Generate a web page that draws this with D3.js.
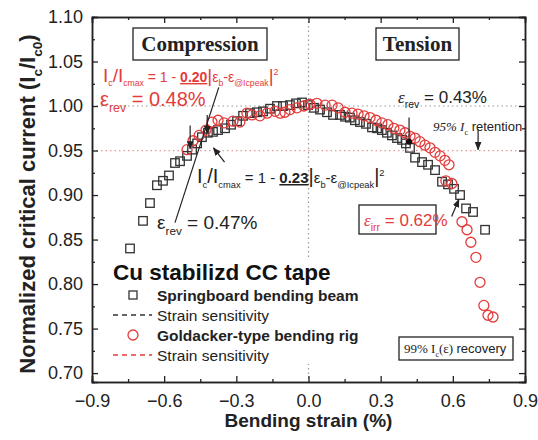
<!DOCTYPE html>
<html lang="en">
<head>
<meta charset="utf-8">
<title>Ic vs bending strain</title>
<script src="https://cdn.jsdelivr.net/npm/d3@7"></script>
<style>body{margin:0;background:#fff}</style>
</head>
<body>
<script>
// Springboard bending beam (black squares)
const strainBeam = [-0.742,-0.688,-0.659,-0.630,-0.605,-0.580,-0.555,-0.534,-0.505,-0.484,-0.463,-0.443,-0.418,-0.397,-0.376,-0.347,-0.322,-0.297,-0.272,-0.243,-0.214,-0.189,-0.160,-0.131,-0.106,-0.077,-0.052,-0.027,-0.002,0.023,0.048,0.077,0.102,0.131,0.152,0.172,0.193,0.214,0.239,0.264,0.285,0.305,0.326,0.347,0.368,0.389,0.405,0.422,0.443,0.472,0.497,0.526,0.555,0.580,0.605,0.630,0.655,0.684,0.734];
const icBeam = [0.840,0.871,0.891,0.911,0.916,0.922,0.936,0.938,0.944,0.951,0.958,0.965,0.970,0.971,0.973,0.975,0.979,0.983,0.989,0.992,0.993,0.994,0.997,1.000,1.000,1.001,1.003,1.004,1.001,0.998,0.996,0.993,0.990,0.990,0.988,0.987,0.984,0.982,0.980,0.976,0.975,0.973,0.970,0.967,0.964,0.962,0.958,0.953,0.942,0.937,0.934,0.928,0.915,0.912,0.907,0.900,0.885,0.881,0.861];

// Goldacker-type bending rig (red circles)
const strainRig = [-0.505,-0.480,-0.455,-0.426,-0.401,-0.376,-0.351,-0.314,-0.285,-0.256,-0.235,-0.202,-0.172,-0.139,-0.118,-0.098,-0.077,-0.048,-0.019,0.006,0.035,0.069,0.098,0.123,0.152,0.181,0.206,0.231,0.256,0.281,0.305,0.330,0.355,0.380,0.401,0.422,0.443,0.463,0.484,0.505,0.526,0.547,0.567,0.584,0.571,0.596,0.638,0.659,0.675,0.696,0.713,0.729,0.746,0.767];
const icRig = [0.951,0.961,0.967,0.973,0.982,0.984,0.981,0.983,0.982,0.992,0.990,0.989,0.992,0.994,0.992,0.993,0.996,0.998,1.000,1.002,1.003,1.001,1.001,0.998,0.993,0.992,0.991,0.989,0.987,0.984,0.981,0.979,0.975,0.973,0.970,0.966,0.964,0.960,0.956,0.953,0.948,0.944,0.939,0.934,0.916,0.913,0.870,0.861,0.847,0.830,0.802,0.776,0.765,0.763];

const xTicks = [-0.9,-0.6,-0.3,0.0,0.3,0.6,0.9];
const yTicks = [0.70,0.75,0.80,0.85,0.90,0.95,1.00,1.05,1.10];

const w = 538, h = 440;
const red = "#e43b3b", ink = "#222";
const sans = "'Liberation Sans', Arial, sans-serif";
const serif = "'Liberation Serif', 'Times New Roman', serif";

const svg = d3.select("body").append("svg")
    .attr("width", w).attr("height", h);

const x = d3.scaleLinear().domain([-0.9, 0.9]).range([92, 525]);
const y = d3.scaleLinear().domain([0.69, 1.10]).range([382, 17]);

svg.append("defs").append("marker")
    .attr("id", "arr").attr("viewBox", "0 0 10 10")
    .attr("refX", 9).attr("refY", 5)
    .attr("markerWidth", 7).attr("markerHeight", 7)
    .attr("orient", "auto")
    .append("path").attr("d", "M0,1 L10,5 L0,9 z").attr("fill", ink);

// reference dotted lines
svg.append("line").attr("x1", x(-0.9)).attr("x2", x(0.9))
    .attr("y1", y(1.0)).attr("y2", y(1.0))
    .attr("stroke", "#999").attr("stroke-width", 1.2).attr("stroke-dasharray", "1.5,3");
svg.append("line").attr("x1", x(-0.9)).attr("x2", x(0.9))
    .attr("y1", y(0.95)).attr("y2", y(0.95))
    .attr("stroke", "#e59a9a").attr("stroke-width", 1.2).attr("stroke-dasharray", "1.5,3");
svg.append("line").attr("x1", x(0)).attr("x2", x(0))
    .attr("y1", y(1.10)).attr("y2", y(0.69))
    .attr("stroke", "#999").attr("stroke-width", 1.2).attr("stroke-dasharray", "1.5,3");

// axes (ticks inward, mirrored)
const minorX = d3.range(-0.75, 0.9, 0.3);
const minorY = d3.range(0.725, 1.1, 0.05);
function axisBox() {
  const g = svg.append("g");
  g.append("g").attr("transform", `translate(0,${y(0.69)})`)
    .call(d3.axisBottom(x).tickValues(xTicks).tickSize(-6).tickPadding(12).tickFormat(d3.format(".1f")));
  g.append("g").attr("transform", `translate(0,${y(0.69)})`)
    .call(d3.axisBottom(x).tickValues(minorX).tickSize(-3).tickFormat(""));
  g.append("g").attr("transform", `translate(0,${y(1.10)})`)
    .call(d3.axisTop(x).tickValues(xTicks).tickSize(-6).tickFormat(""));
  g.append("g").attr("transform", `translate(0,${y(1.10)})`)
    .call(d3.axisTop(x).tickValues(minorX).tickSize(-3).tickFormat(""));
  g.append("g").attr("transform", `translate(${x(-0.9)},0)`)
    .call(d3.axisLeft(y).tickValues(yTicks).tickSize(-6).tickPadding(9).tickFormat(d3.format(".2f")));
  g.append("g").attr("transform", `translate(${x(-0.9)},0)`)
    .call(d3.axisLeft(y).tickValues(minorY).tickSize(-3).tickFormat(""));
  g.append("g").attr("transform", `translate(${x(0.9)},0)`)
    .call(d3.axisRight(y).tickValues(yTicks).tickSize(-6).tickFormat(""));
  g.append("g").attr("transform", `translate(${x(0.9)},0)`)
    .call(d3.axisRight(y).tickValues(minorY).tickSize(-3).tickFormat(""));
  g.selectAll("path.domain").attr("stroke", ink).attr("stroke-width", 1.5);
  g.selectAll(".tick line").attr("stroke", ink).attr("stroke-width", 1.3);
  g.selectAll(".tick text").attr("font-family", sans).attr("font-size", 18).attr("fill", ink);
}
axisBox();

// rich text helper: parts = [text, "sub"|"sup"|"", extra attrs]
function rich(x0, y0, parts, opt) {
  const t = svg.append("text").attr("x", x0).attr("y", y0)
      .attr("font-family", opt.family || sans)
      .attr("font-size", opt.size)
      .attr("font-weight", opt.weight || "normal")
      .attr("fill", opt.fill || ink);
  if (opt.anchor) t.attr("text-anchor", opt.anchor);
  if (opt.transform) t.attr("transform", opt.transform);
  let shift = 0;
  parts.forEach(p => {
    const kind = p[1] || "";
    const target = kind === "sub" ? opt.size * 0.3 : kind === "sup" ? -opt.size * 0.5 : 0;
    const ts = t.append("tspan").attr("dy", target - shift).text(p[0]);
    shift = target;
    if (kind) ts.attr("font-size", opt.size * 0.62);
    if (p[2]) Object.entries(p[2]).forEach(([k, v]) => ts.attr(k, v));
  });
  return t;
}

// axis titles
svg.append("text").attr("x", x(0)).attr("y", 427)
    .attr("text-anchor", "middle").attr("font-family", sans)
    .attr("font-size", 19).attr("font-weight", "bold").attr("fill", ink)
    .text("Bending strain (%)");
rich(0, 0, [["Normalized critical current (I"], ["c", "sub"], ["/I"], ["c0", "sub"], [")"]],
    {size: 22, weight: "bold", anchor: "middle", transform: "translate(35,204) rotate(-90)"});

// data
svg.append("g").selectAll("rect")
    .data(strainBeam.map((s, i) => [s, icBeam[i]]))
    .join("rect")
    .attr("x", d => x(d[0]) - 4.25).attr("y", d => y(d[1]) - 4.25)
    .attr("width", 8.5).attr("height", 8.5)
    .attr("fill", "none").attr("stroke", "#333").attr("stroke-width", 1.3);

svg.append("g").selectAll("circle")
    .data(strainRig.map((s, i) => [s, icRig[i]]))
    .join("circle")
    .attr("cx", d => x(d[0])).attr("cy", d => y(d[1])).attr("r", 5)
    .attr("fill", "none").attr("stroke", red).attr("stroke-width", 1.3);

// region labels
function box(x0, y0, bw, bh) {
  return svg.append("rect").attr("x", x0).attr("y", y0).attr("width", bw).attr("height", bh)
      .attr("fill", "#fff").attr("stroke", ink).attr("stroke-width", 1.3);
}
box(133, 28, 134, 32);
svg.append("text").attr("x", 200).attr("y", 51).attr("text-anchor", "middle")
    .attr("font-family", serif).attr("font-size", 21).attr("font-weight", "bold").attr("fill", ink)
    .text("Compression");
box(376, 28, 83, 32);
svg.append("text").attr("x", 417.5).attr("y", 51).attr("text-anchor", "middle")
    .attr("font-family", serif).attr("font-size", 21).attr("font-weight", "bold").attr("fill", ink)
    .text("Tension");

// fit formulas
const big = {"font-size": 19};
rich(103, 82, [["I", "", big], ["c", "sub"], ["/", "", big], ["I", "", big], ["cmax", "sub"], [" = 1 - "],
    ["0.20", "", {"font-weight": "bold", "text-decoration": "underline"}], ["|", "", big], ["ε"], ["b", "sub"],
    ["-ε"], ["@Icpeak", "sub"], ["|", "", big], ["2", "sup"]], {size: 14, fill: red});
rich(100, 106, [["ε"], ["rev", "sub"], [" = 0.48%"]], {size: 20, fill: red});

const big2 = {"font-size": 20};
rich(197, 183, [["I", "", big2], ["c", "sub"], ["/", "", big2], ["I", "", big2], ["cmax", "sub"], [" = 1 - "],
    ["0.23", "", {"font-weight": "bold", "text-decoration": "underline"}], ["|", "", big2], ["ε"], ["b", "sub"],
    ["-ε"], ["@Icpeak", "sub"], ["|", "", big2], ["2", "sup"]], {size: 15});
rich(157, 229, [["ε"], ["rev", "sub"], [" = 0.47%"]], {size: 19});
rich(398, 103, [["ε", "", {"font-style": "italic", "font-family": serif}], ["rev", "sub"], [" = 0.43%"]], {size: 17});

rich(433, 131, [["95% ", "", {"font-family": serif, "font-style": "italic"}],
    ["I", "", {"font-family": serif, "font-style": "italic"}], ["c", "sub", {"font-family": serif}],
    [" retention"]], {size: 13});

// leader lines and arrows
function arrow(x1, y1, x2, y2, head) {
  const l = svg.append("line").attr("x1", x1).attr("y1", y1).attr("x2", x2).attr("y2", y2)
      .attr("stroke", ink).attr("stroke-width", 1.2);
  if (head) l.attr("marker-end", "url(#arr)");
}
arrow(x(-0.555), y(0.869), x(-0.373), y(1.021), false);
arrow(x(-0.492), y(0.978), x(-0.492), y(0.952), true);
arrow(x(-0.421), y(0.990), x(-0.421), y(0.969), true);
arrow(x(-0.349), y(0.937), x(-0.395), y(0.953), true);
arrow(x(0.418), y(0.987), x(0.418), y(0.961), false);
svg.append("circle").attr("cx", x(0.418)).attr("cy", y(0.960)).attr("r", 3).attr("fill", "#111");
arrow(x(0.705), y(0.974), x(0.705), y(0.951), true);
arrow(x(0.595), y(0.876), x(0.625), y(0.895), true);

// irreversible strain box
box(359, 205, 77, 29);
rich(364, 226, [["ε", "", {"font-style": "italic", "font-family": serif}], ["irr", "sub"], [" = 0.62%"]],
    {size: 17, fill: red});

// recovery box
box(399, 337, 114, 23);
rich(404, 353, [["99% I", "", {"font-family": serif}], ["c", "sub", {"font-family": serif}],
    ["(ε) ", "", {"font-family": serif}], ["recovery"]], {size: 13});

// legend
const lg = svg.append("g");
lg.append("rect").attr("x", 108).attr("y", 258).attr("width", 262).attr("height", 106).attr("fill", "#fff");
lg.append("text").attr("x", 113).attr("y", 280).attr("font-family", sans).attr("font-size", 22.5)
    .attr("font-weight", "bold").attr("fill", "#111").text("Cu stabilizd CC tape");
const rows = [
  {label: "Springboard bending beam", kind: "square", bold: true},
  {label: "Strain sensitivity", kind: "dash", color: "#333"},
  {label: "Goldacker-type bending rig", kind: "circle", bold: true},
  {label: "Strain sensitivity", kind: "dash", color: red}
];
rows.forEach((r, i) => {
  const yy = 295 + i * 20;
  if (r.kind === "square")
    lg.append("rect").attr("x", 129).attr("y", yy - 4).attr("width", 8).attr("height", 8)
      .attr("fill", "none").attr("stroke", "#333").attr("stroke-width", 1.3);
  if (r.kind === "circle")
    lg.append("circle").attr("cx", 133).attr("cy", yy).attr("r", 5)
      .attr("fill", "none").attr("stroke", red).attr("stroke-width", 1.3);
  if (r.kind === "dash")
    lg.append("line").attr("x1", 113).attr("x2", 152).attr("y1", yy).attr("y2", yy)
      .attr("stroke", r.color).attr("stroke-width", 1.5).attr("stroke-dasharray", "5,4");
  lg.append("text").attr("x", 157).attr("y", yy + 5.5).attr("font-family", sans).attr("font-size", 15.5)
    .attr("font-weight", r.bold ? "bold" : "normal").attr("fill", ink).text(r.label);
});
</script>
</body>
</html>
